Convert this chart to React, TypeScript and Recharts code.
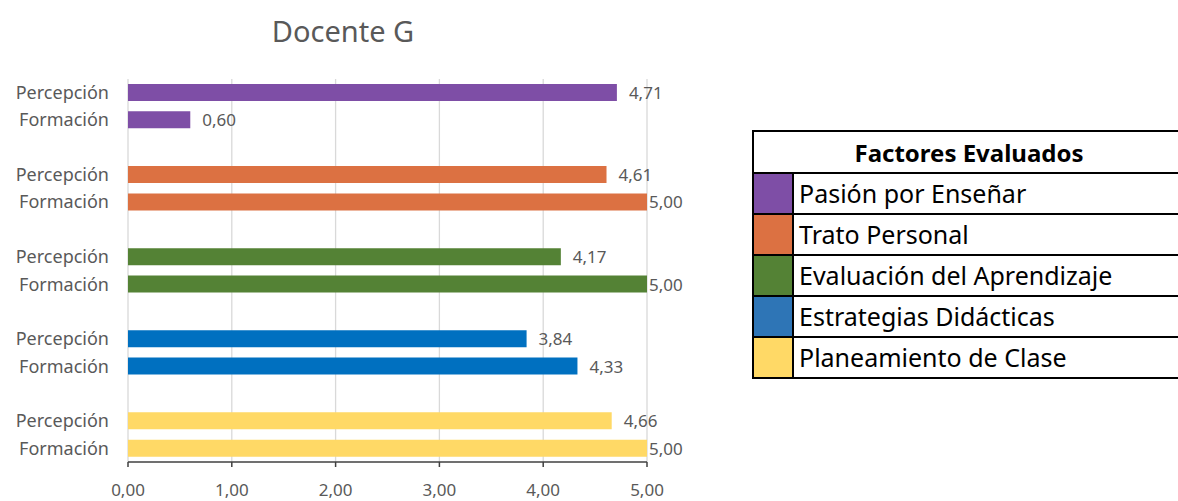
import React from "react";
import { BarChart, Bar, XAxis, YAxis, CartesianGrid, Cell, LabelList } from "recharts";

const factors = [
  "Pasión por Enseñar",
  "Trato Personal",
  "Evaluación del Aprendizaje",
  "Estrategias Didácticas",
  "Planeamiento de Clase",
];
const percepcion = [4.71, 4.61, 4.17, 3.84, 4.66];
const formacion = [0.6, 5.0, 5.0, 4.33, 5.0];
const barColors = ["#7E4EA6", "#DC7142", "#548235", "#0070C0", "#FFD966"];
const legendColors = ["#7E4EA6", "#DC7142", "#548235", "#2E75B6", "#FFD966"];
const rowLabels = ["Percepción", "Formación"];
const xTicks = [0, 1, 2, 3, 4, 5];

const GRAY = "#595959";
const FONT = "'Noto Sans', sans-serif";

interface Row {
  key: string;
  label: string;
  value: number | null;
  color: string;
}

const rows: Row[] = [];
factors.forEach((f, i) => {
  rows.push({ key: `p${i}`, label: rowLabels[0], value: percepcion[i], color: barColors[i] });
  rows.push({ key: `f${i}`, label: rowLabels[1], value: formacion[i], color: barColors[i] });
  if (i < factors.length - 1) rows.push({ key: `g${i}`, label: "", value: null, color: "none" });
});

const labelByKey: Record<string, string> = {};
rows.forEach((r) => (labelByKey[r.key] = r.label));

const fmt = (v: number) => v.toFixed(2).replace(".", ",");

function ValueLabel(props: any) {
  const { x, y, width, height, value } = props;
  if (value == null) return null;
  const gap = value >= 5 ? 2 : 12;
  return (
    <text
      x={x + width + gap}
      y={y + height / 2}
      dominantBaseline="central"
      fill={GRAY}
      fontSize={17}
      fontFamily={FONT}
    >
      {fmt(Number(value))}
    </text>
  );
}

export default function App() {
  const cell = { borderBottom: "2px solid #000", padding: 0, height: 39 };
  return (
    <div
      style={{
        position: "fixed",
        left: 0,
        top: 0,
        width: 1178,
        height: 501,
        overflow: "hidden",
        background: "#fff",
        fontFamily: FONT,
      }}
    >
      <div
        style={{
          position: "absolute",
          left: 0,
          width: 686,
          top: 11,
          textAlign: "center",
          fontSize: 29,
          color: GRAY,
        }}
      >
        Docente G
      </div>
      <div style={{ position: "absolute", left: 0, top: 0 }}>
        <BarChart
          width={700}
          height={501}
          data={rows}
          layout="vertical"
          margin={{ top: 79, right: 53, bottom: 0, left: 0 }}
          barSize={17}
        >
          <CartesianGrid horizontal={false} stroke="#d9d9d9" strokeWidth={1.3} />
          <XAxis
            type="number"
            domain={[0, 5]}
            ticks={xTicks}
            tickFormatter={fmt}
            height={39}
            axisLine={{ stroke: "#404040", strokeWidth: 1.6 }}
            tickLine={{ stroke: "#404040", strokeWidth: 1.5 }}
            tickSize={5}
            tickMargin={17}
            tick={{ fill: GRAY, fontSize: 17, fontFamily: FONT }}
          />
          <YAxis
            type="category"
            dataKey="key"
            width={128}
            axisLine={false}
            tickLine={false}
            tickSize={0}
            tickMargin={19}
            interval={0}
            tickFormatter={(k: string) => labelByKey[k]}
            tick={{ fill: GRAY, fontSize: 18, fontFamily: FONT }}
          />
          <Bar dataKey="value" isAnimationActive={false}>
            {rows.map((r) => (
              <Cell key={r.key} fill={r.color} />
            ))}
            <LabelList dataKey="value" content={ValueLabel} />
          </Bar>
        </BarChart>
      </div>
      <table
        style={{
          position: "absolute",
          left: 752,
          top: 130,
          width: 438,
          borderCollapse: "collapse",
          border: "2px solid #000",
          fontSize: 25,
          color: "#000",
          fontFamily: FONT,
        }}
      >
        <tbody>
          <tr>
            <td
              colSpan={2}
              style={{ ...cell, height: 40, textAlign: "center", fontWeight: "bold", fontSize: 24, paddingRight: 4 }}
            >
              Factores Evaluados
            </td>
          </tr>
          {factors.map((f, i) => (
            <tr key={f}>
              <td style={{ ...cell, width: 38, background: legendColors[i], borderRight: "2px solid #000" }} />
              <td style={{ ...cell, paddingLeft: 5, lineHeight: "39px", whiteSpace: "nowrap" }}>{f}</td>
            </tr>
          ))}
        </tbody>
      </table>
    </div>
  );
}
